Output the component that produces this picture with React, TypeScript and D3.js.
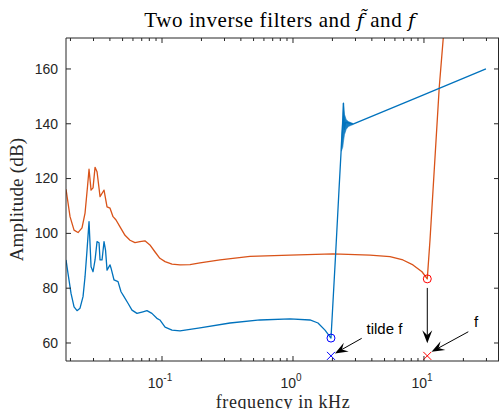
import React from "react";
import * as d3 from "d3";

// ---- data (frequency in kHz, amplitude in dB) ----
const blueFreq = [0.0185, 0.01915, 0.0202, 0.0213, 0.02245, 0.02366, 0.02494, 0.02584, 0.02676, 0.02772, 0.02872, 0.02974, 0.03081, 0.03191, 0.03305, 0.03364, 0.03484, 0.03608, 0.03705, 0.03804, 0.0401, 0.04082, 0.04302, 0.04615, 0.04864, 0.05126, 0.05499, 0.05898, 0.06438, 0.07151, 0.0767, 0.08371, 0.09137, 0.0963, 0.1055, 0.1192, 0.1372, 0.195, 0.3305, 0.56, 0.9486, 1.348, 1.552, 1.755, 1.95, 1.985, 2.118, 2.245, 2.355, 2.408, 2.43, 2.46, 2.52, 2.65, 2.87, 9.32, 29.73];
const blueDb = [90.3, 85.4, 78.1, 73.2, 71.8, 72.7, 76.9, 84.2, 93.9, 104.3, 87.8, 86.0, 90.3, 97.0, 96.6, 90.3, 90.3, 97.0, 93.9, 86.6, 88.5, 87.3, 83.0, 82.4, 78.7, 76.9, 74.5, 72.0, 70.8, 71.4, 71.8, 70.8, 69.0, 68.4, 65.8, 64.7, 64.4, 65.5, 67.3, 68.4, 68.8, 68.4, 67.3, 64.7, 61.8, 68.4, 92.8, 115.8, 134.1, 142.1, 147.5, 138.0, 140.5, 140.3, 139.9, 150.0, 160.0];

const blueFuzzFreq = [2.34, 2.40, 2.42, 2.47, 2.55, 2.65, 2.87];
const blueFuzzHi = [133.5, 143.0, 147.5, 143.5, 141.5, 140.8, 140.1];
const blueFuzzLo = [130.0, 131.5, 133.0, 136.0, 138.0, 139.0, 139.7];

const orangeFreq = [0.0185, 0.01985, 0.0213, 0.02285, 0.0245, 0.02584, 0.02698, 0.02772, 0.02872, 0.02974, 0.03081, 0.03191, 0.03364, 0.03545, 0.03608, 0.03804, 0.0401, 0.04227, 0.04456, 0.0478, 0.05218, 0.05695, 0.06216, 0.06785, 0.07406, 0.08083, 0.08822, 0.0963, 0.1055, 0.1192, 0.1372, 0.1636, 0.195, 0.2773, 0.4696, 0.9486, 2.02, 3.87, 5.5, 6.912, 8.24, 9.656, 10.6, 11.12, 13.09, 14.04, 14.72];
const orangeDb = [116.1, 106.1, 101.2, 100.3, 102.0, 107.4, 117.0, 123.4, 115.8, 116.6, 124.1, 122.5, 113.4, 115.2, 115.8, 109.7, 109.2, 106.1, 104.9, 102.4, 99.3, 97.5, 96.6, 97.0, 97.3, 95.8, 93.3, 90.9, 89.7, 88.8, 88.5, 88.6, 89.2, 90.3, 91.6, 92.1, 92.5, 92.1, 91.5, 90.3, 88.5, 86.0, 83.4, 97.6, 153.5, 171.3, 179.7];

// markers: [freq, dB]
const tildeFCircle = [1.95, 61.8];
const tildeFCross = [1.95, 55.3];
const fCircle = [10.6, 83.4];
const fCross = [10.6, 55.3];

// annotation arrows: [tailFreq, tailDb, tipFreq, tipDb]
const arrowTildeF = [3.346, 61.7, 2.09, 56.2];
const arrowF = [21.8, 64.1, 11.43, 56.8];
const arrowDown = [10.6, 80.1, 10.6, 59.9];

const yTicks = [60, 80, 100, 120, 140, 160];
const xMajorTicks = [0.1, 1, 10];
const xMajorExp = ["-1", "0", "1"];

const W = 499;
const H = 409;
const L = 66, R = 499, T = 38, B = 361;
const BLUE = "#0072BD";
const ORANGE = "#D95319";
const AX = "#262626";
const SERIF = "'Liberation Serif', 'Times New Roman', serif";
const SANS = "'Liberation Sans', Arial, sans-serif";

function Arrow({ a, x, y }: { a: number[]; x: any; y: any }) {
  const x1 = x(a[0]), y1 = y(a[1]), x2 = x(a[2]), y2 = y(a[3]);
  const ang = Math.atan2(y2 - y1, x2 - x1);
  const hl = 13, hw = 5, notch = 8;
  const c = Math.cos(ang), s = Math.sin(ang);
  const bx = x2 - hl * c, by = y2 - hl * s;
  const nx = x2 - notch * c, ny = y2 - notch * s;
  const p1 = [bx - hw * s, by + hw * c];
  const p2 = [bx + hw * s, by - hw * c];
  return (
    <g>
      <line x1={x1} y1={y1} x2={nx} y2={ny} stroke="#000" strokeWidth={1} />
      <polygon points={`${x2},${y2} ${p1[0]},${p1[1]} ${nx},${ny} ${p2[0]},${p2[1]}`} fill="#000" />
    </g>
  );
}

export default function App() {
  const x = d3.scaleLog().domain([0.01849, 37.4]).range([L, R]);
  const y = d3.scaleLinear().domain([53.43, 171.3]).range([B, T]);

  const mk = (fs: number[], ds: number[]) =>
    d3.line<number>()
      .x((i) => x(fs[i]))
      .y((i) => y(ds[i]))(fs.map((_, i) => i)) || "";
  const bluePath = mk(blueFreq, blueDb);
  const orangePath = mk(orangeFreq, orangeDb);
  const fuzzPath =
    d3.area<number>()
      .x((i) => x(blueFuzzFreq[i]))
      .y0((i) => y(blueFuzzLo[i]))
      .y1((i) => y(blueFuzzHi[i]))(blueFuzzFreq.map((_, i) => i)) || "";

  const minor: number[] = [];
  for (let e = -2; e <= 1; e++) {
    for (let m = 2; m <= 9; m++) {
      const v = m * Math.pow(10, e);
      if (v > 0.01849 && v < 37.4) minor.push(v);
    }
  }

  const cross = (p: number[], color: string) => {
    const cx = x(p[0]), cy = y(p[1]), r = 4;
    return (
      <g stroke={color} strokeWidth={1}>
        <line x1={cx - r} y1={cy - r} x2={cx + r} y2={cy + r} />
        <line x1={cx - r} y1={cy + r} x2={cx + r} y2={cy - r} />
      </g>
    );
  };

  return (
    <svg width={W} height={H} style={{ position: "absolute", left: 0, top: 0, background: "#fff" }}>
      <defs>
        <clipPath id="plotclip">
          <rect x={L} y={T} width={R - L} height={B - T} />
        </clipPath>
      </defs>
      <rect x={0} y={0} width={W} height={H} fill="#fff" />

      {/* curves */}
      <g clipPath="url(#plotclip)">
        <path d={orangePath} fill="none" stroke={ORANGE} strokeWidth={1.3} strokeLinejoin="round" />
        <path d={fuzzPath} fill={BLUE} stroke={BLUE} strokeWidth={0.6} opacity={0.9} />
        <path d={bluePath} fill="none" stroke={BLUE} strokeWidth={1.3} strokeLinejoin="round" />
        <circle cx={x(tildeFCircle[0])} cy={y(tildeFCircle[1])} r={4} fill="none" stroke="#0000FF" strokeWidth={1} />
        <circle cx={x(fCircle[0])} cy={y(fCircle[1])} r={4} fill="none" stroke="#FF0000" strokeWidth={1} />
        {cross(tildeFCross, "#0000FF")}
        {cross(fCross, "#FF0000")}
      </g>

      {/* axes box */}
      <g stroke={AX} strokeWidth={1} fill="none">
        <line x1={L} y1={T} x2={R} y2={T} />
        <line x1={L} y1={B} x2={R} y2={B} />
        <line x1={L} y1={T} x2={L} y2={B} />
        <line x1={R - 0.5} y1={T} x2={R - 0.5} y2={B} />
      </g>

      {/* x ticks */}
      <g stroke={AX} strokeWidth={1}>
        {minor.map((v) => (
          <g key={"mi" + v}>
            <line x1={x(v)} x2={x(v)} y1={B} y2={B - 3} />
            <line x1={x(v)} x2={x(v)} y1={T} y2={T + 3} />
          </g>
        ))}
        {xMajorTicks.map((v) => (
          <g key={"ma" + v}>
            <line x1={x(v)} x2={x(v)} y1={B} y2={B - 5} />
            <line x1={x(v)} x2={x(v)} y1={T} y2={T + 5} />
          </g>
        ))}
        {yTicks.map((v) => (
          <g key={"y" + v}>
            <line x1={L} x2={L + 5} y1={y(v)} y2={y(v)} />
            <line x1={R} x2={R - 5} y1={y(v)} y2={y(v)} />
          </g>
        ))}
      </g>

      {/* tick labels */}
      <g fontFamily={SANS} fill={AX}>
        {yTicks.map((v) => (
          <text key={"yl" + v} x={L - 8} y={y(v)} dy="0.35em" textAnchor="end" fontSize={14}>
            {v}
          </text>
        ))}
        {xMajorTicks.map((v, i) => (
          <text key={"xl" + v} x={x(v) - 2} y={388} textAnchor="middle" fontSize={14}>
            10
            <tspan dy={-7} fontSize={10}>{xMajorExp[i]}</tspan>
          </text>
        ))}
      </g>

      {/* title and labels */}
      <text x={280} y={27} textAnchor="middle" fontFamily={SERIF} fontSize={21} letterSpacing={0.6} fill="#000">
        Two inverse filters and{" "}
        <tspan fontFamily="'DejaVu Serif', serif" fontStyle="italic" fontSize={19}>{"f\u0303"}</tspan>
        {" "}and{" "}
        <tspan fontFamily="'DejaVu Serif', serif" fontStyle="italic" fontSize={19}>f</tspan>
      </text>
      <text x={283} y={408} textAnchor="middle" fontFamily={SERIF} fontSize={18} letterSpacing={0.6} fill="#262626">
        frequency in kHz
      </text>
      <text transform={`translate(23,${(T + B) / 2}) rotate(-90)`} textAnchor="middle" fontFamily={SERIF} fontSize={19} letterSpacing={0.2} fill="#262626">
        Amplitude (dB)
      </text>

      {/* annotations */}
      <Arrow a={arrowDown} x={x} y={y} />
      <Arrow a={arrowTildeF} x={x} y={y} />
      <Arrow a={arrowF} x={x} y={y} />
      <text x={366.5} y={334} fontFamily={SANS} fontSize={15} fill="#000">tilde f</text>
      <text x={474} y={327} fontFamily={SANS} fontSize={15} fill="#000">f</text>
    </svg>
  );
}
